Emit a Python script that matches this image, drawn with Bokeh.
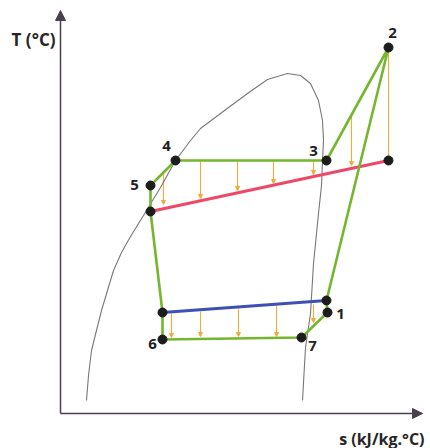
from bokeh.plotting import figure
from bokeh.models import ColumnDataSource, Arrow, NormalHead, Range1d
from bokeh.embed import file_html
from bokeh.resources import INLINE
from bokeh.core.properties import value

# ---- data (s, T in arbitrary units) ----
state_labels = ["1", "2", "3", "4", "5", "6", "7"]
state_s = [26.7, 32.8, 26.6, 11.5, 9.0, 10.2, 24.1]
state_T = [10.1, 36.6, 25.3, 25.3, 22.8, 7.4, 7.6]

# hot stream (red) and cold stream (blue) end points
hot_s = [9.0, 32.8]
hot_T = [20.2, 25.3]
cold_s = [10.2, 26.6]
cold_T = [10.1, 11.3]

# saturation dome
dome_s = [2.6, 2.8, 3.1, 3.6, 4.1, 4.7, 5.3, 6.1, 7.0, 8.3, 9.2, 10.0, 11.5, 13.0, 14.0,
          16.0, 18.7, 20.7, 22.7, 24.0, 25.0, 25.8, 26.2, 26.3, 26.2, 26.1, 25.8, 25.3,
          25.0, 24.5, 24.2]
dome_T = [1.3, 3.8, 6.3, 8.3, 10.3, 12.3, 14.3, 16.1, 17.7, 19.8, 21.3, 22.6, 25.3, 27.3, 28.5,
          30.0, 32.0, 33.4, 34.0, 33.8, 33.0, 31.3, 29.3, 27.3, 25.3, 22.8, 20.0, 15.0,
          10.0, 6.6, 1.3]

# heat-transfer arrows, upper section (to hot stream)
up_s = [10.3, 14.0, 17.7, 21.3, 25.3, 29.1, 32.8]
up_T0 = [24.1, 25.2, 25.2, 25.2, 25.2, 29.9, 36.6]
up_T1 = [20.9, 21.5, 22.3, 23.0, 23.9, 24.8, 25.3]

# heat-transfer arrows, lower section (from cold stream)
low_s = [11.1, 14.0, 17.8, 21.6, 25.3]
low_T0 = [10.0, 10.2, 10.5, 10.8, 10.9]
low_T1 = [7.6, 7.7, 7.7, 7.7, 9.1]

s_axis_max = 36.2
T_axis_max = 40.3

# ---- styles ----
GREEN = "#74b62e"
RED = "#ee4868"
BLUE = "#3e50b6"
ORANGE = "#f5aa38"
DOME = "#777777"
AXIS = "#4b4050"
DOT = "#1c1c1c"

p = figure(width=430, height=448, x_range=Range1d(-6.0, 37.0), y_range=Range1d(-3.5, 41.3),
           output_backend="svg", toolbar_location=None, min_border=0,
           x_axis_location=None, y_axis_location=None)
p.grid.visible = False
p.outline_line_color = None
p.background_fill_color = "white"
p.border_fill_color = "white"

# axes with arrow heads
for xs, ys, xe, ye in [(0, 0, 0, T_axis_max), (0, 0, s_axis_max, 0)]:
    p.add_layout(Arrow(end=NormalHead(size=10, fill_color=AXIS, line_color=AXIS, line_width=1),
                       x_start=xs, y_start=ys, x_end=xe, y_end=ye,
                       line_color=AXIS, line_width=1.5))

# dome
p.line(dome_s, dome_T, line_color=DOME, line_width=1.1, line_join="round")

# orange arrows (drawn under the lines and dots)
arr_src = ColumnDataSource(dict(x0=up_s + low_s, y0=up_T0 + low_T0,
                                x1=up_s + low_s, y1=up_T1 + low_T1))
p.add_layout(Arrow(end=NormalHead(size=4, fill_color=ORANGE, line_color=ORANGE, line_width=1),
                   source=arr_src, x_start="x0", y_start="y0", x_end="x1", y_end="y1",
                   line_color=ORANGE, line_width=1.1, level="underlay"))

# streams
p.line(hot_s, hot_T, line_color=RED, line_width=3)
p.line(cold_s, cold_T, line_color=BLUE, line_width=3)

# cycle: 1 -> cold end -> 2 -> 3 -> 4 -> 5 -> hot start -> cold start -> 6 -> 7 -> 1
S = dict(zip(state_labels, zip(state_s, state_T)))
path = [S["1"], (cold_s[1], cold_T[1]), S["2"], S["3"], S["4"], S["5"],
        (hot_s[0], hot_T[0]), (cold_s[0], cold_T[0]), S["6"], S["7"], S["1"]]
p.line([a for a, b in path], [b for a, b in path], line_color=GREEN, line_width=2.6,
       line_join="round")

# dots
dot_s = state_s + hot_s + cold_s
dot_T = state_T + hot_T + cold_T
p.scatter(dot_s, dot_T, size=9, fill_color=DOT, line_color=DOT)

# state labels
lab_dx = [13, 4, -13, -9, -16, -10, 11]
lab_dy = [1, -15, -10, -15, -1, 4, 8]
lab_src = ColumnDataSource(dict(x=state_s, y=state_T, t=state_labels, dx=lab_dx, dy=lab_dy))
p.text(x="x", y="y", text="t", source=lab_src, x_offset="dx", y_offset="dy",
       text_font=value("Open Sans"), text_font_style="bold", text_font_size="15px",
       text_color="#222222", text_align="center", text_baseline="middle")

# axis titles
p.text(x=[-0.5], y=[37.4], text=["T (°C)"], text_font=value("Open Sans"),
       text_font_style="bold", text_font_size="17px", text_color="#262626",
       text_align="right", text_baseline="alphabetic")
p.text(x=[36.4], y=[-2.5], text=["s (kJ/kg.°C)"], text_font=value("Open Sans"),
       text_font_style="bold", text_font_size="16px", text_color="#262626",
       text_align="right", text_baseline="alphabetic")

open("out.html", "w").write(file_html(p, INLINE))
